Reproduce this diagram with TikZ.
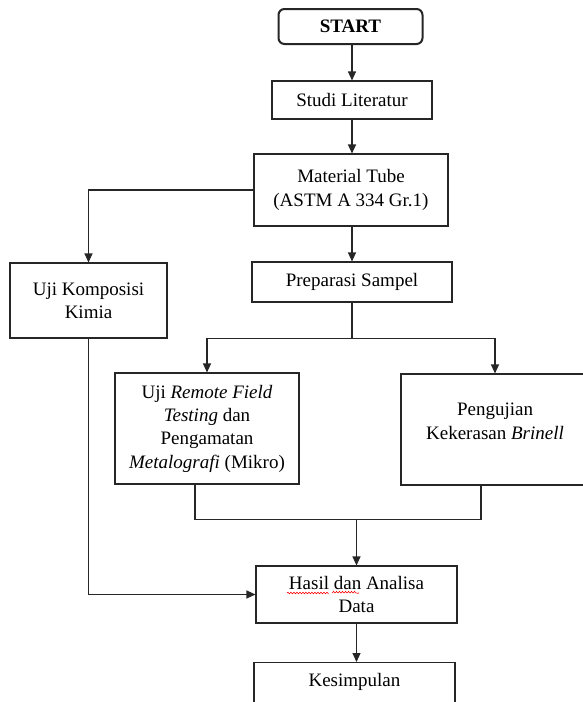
\documentclass[tikz,border=0pt]{standalone}
\usepackage{fontspec}
\setmainfont{Liberation Serif}
\usetikzlibrary{arrows.meta,decorations.pathmorphing}
\tikzset{
	box/.style={draw=black!85,line width=1.1pt,align=center,inner sep=2pt},
	flow/.style={draw=black!85,line width=1.1pt,-{Triangle[length=9pt,width=8pt]}},
	link/.style={draw=black!85,line width=1.1pt},
}
\begin{document}
\begin{tikzpicture}[x=1pt,y=-1pt,font=\fontsize{19}{23.3}\selectfont,line join=miter]
	\useasboundingbox[fill=white] (0,0) rectangle (582,702);
	% boxes
	\node[box,rounded corners=6pt,line width=2pt,minimum width=144pt,minimum height=35pt,font=\fontsize{19}{23}\selectfont\bfseries] (start) at (350.5,26.5) {START};
	\node[box,minimum width=160pt,minimum height=38pt] (studi) at (352,100) {Studi Literatur};
	\node[box,minimum width=194pt,minimum height=72pt] (material) at (351,190) {Material Tube\\(ASTM A 334 Gr.1)};
	\node[box,minimum width=157pt,minimum height=75pt] (komposisi) at (88.5,300.5) {Uji Komposisi\\Kimia};
	\node[box,minimum width=200pt,minimum height=40pt] (preparasi) at (352,282) {Preparasi Sampel};
	\node[box,minimum width=184pt,minimum height=111pt] (remote) at (207,428.5) {Uji \textit{Remote Field}\\\textit{Testing} dan\\Pengamatan\\\textit{Metalografi} (Mikro)};
	\node[box,minimum width=188pt,minimum height=111pt] (brinell) at (495,429.5) {Pengujian\\Kekerasan \textit{Brinell}\\[-7pt]};
	\node[box,minimum width=201pt,minimum height=57pt] (hasil) at (356.5,594.5) {Hasil dan Analisa\\Data};
	\node[box,minimum width=201pt,anchor=north,inner ysep=11pt,text depth=50pt] (kesimpulan) at (354.5,662) {Kesimpulan};
	% connectors
	\draw[flow] (studi.north |- start.south) -- (studi.north);
	\draw[flow] (studi.south) -- (studi.south |- material.north);
	\draw[flow] (material.west) -| (komposisi.north);
	\draw[flow] (preparasi.north |- material.south) -- (preparasi.north);
	\draw[link] (preparasi.south) -- ++(0,36) coordinate (split);
	\draw[flow] (split) -| (remote.north);
	\draw[flow] (split) -| (brinell.north);
	\path (hasil.north) ++(0,-46) coordinate (join);
	\draw[link] ([xshift=-12pt]remote.south) |- (join) -| ([xshift=-14pt]brinell.south);
	\draw[flow] (join) -- (hasil.north);
	\draw[flow] (komposisi.south) |- (hasil.west);
	\draw[flow] (hasil.south) -- (hasil.south |- kesimpulan.north);
	% spelling marks
	\draw[red,line width=0.6pt,decorate,decoration={snake,amplitude=0.8pt,segment length=3pt}]
		(287,593) -- (327,593) (332,593) -- (359,593);
\end{tikzpicture}
\end{document}
